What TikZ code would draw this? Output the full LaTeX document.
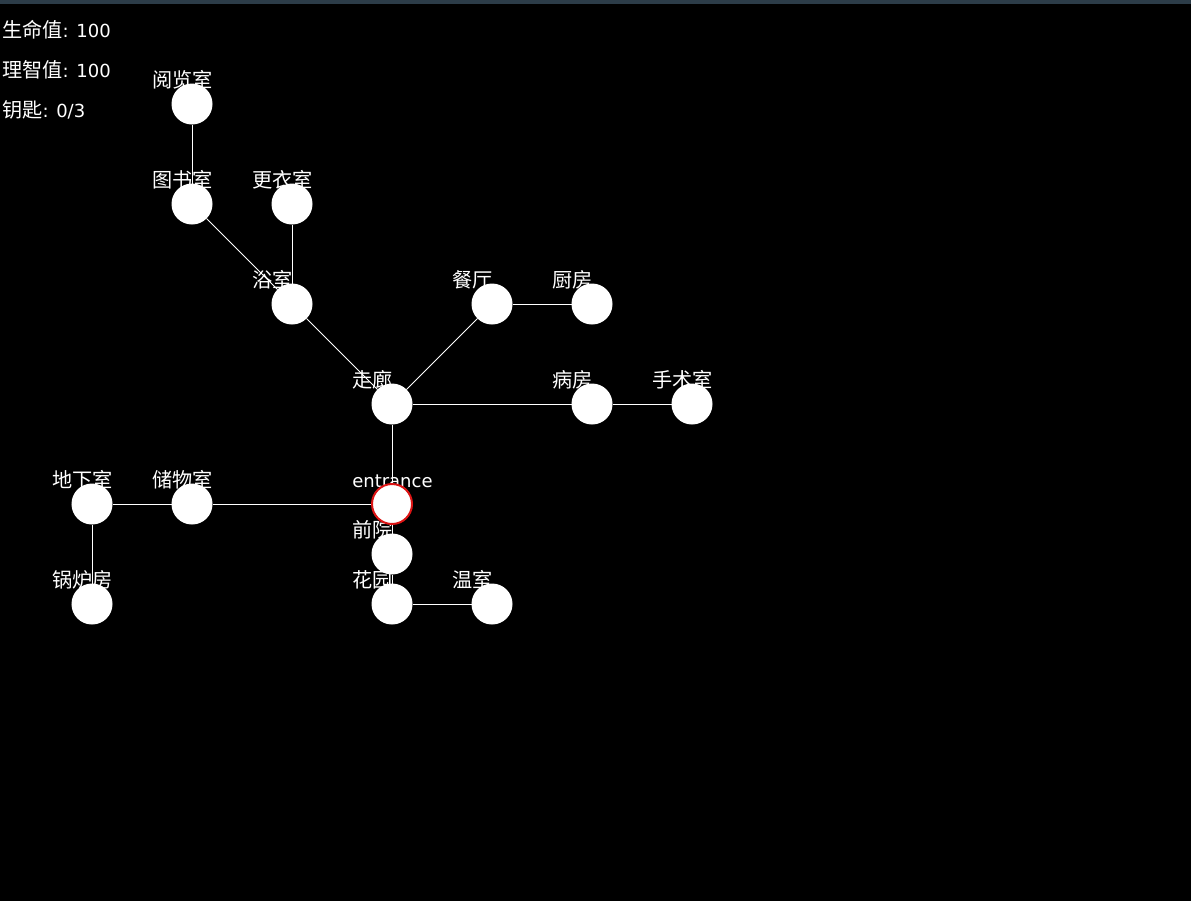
\documentclass[tikz,border=0pt]{standalone}
\usepackage{fontspec}
\setmainfont{DejaVu Sans}
\newfontfamily\cjk[Scale=1.12]{Noto Sans CJK SC}
\usetikzlibrary{positioning}

\definecolor{topbar}{RGB}{44,60,72}
\definecolor{startred}{RGB}{220,20,20}

\pgfdeclarelayer{edges}
\pgfdeclarelayer{texts}
\pgfsetlayers{edges,texts,main}

\tikzset{
  room/.style={circle, fill=white, draw=white, line width=0.75pt, minimum size=30pt, inner sep=0pt},
  startroom/.style={room, draw=startred, line width=1.5pt},
  roomlabel/.style={text=white, anchor=base west, inner sep=0pt, font=\fontsize{13.5pt}{16pt}\selectfont},
  passage/.style={draw=white, line width=0.75pt}
}

\begin{document}
\begin{tikzpicture}[x=0.75pt,y=0.75pt,yscale=-1,xscale=1]
%set diagram left start at 0, and has height of 901
\useasboundingbox (0,0) rectangle (1191,901);

%Shape: Rooms
\node[room] (yuelan) at (192,104) {};
\node[room] (tushu) at (192,204) {};
\node[room] (gengyi) at (292,204) {};
\node[room] (yushi) at (292,304) {};
\node[room] (canting) at (492,304) {};
\node[room] (chufang) at (592,304) {};
\node[room] (zoulang) at (392,404) {};
\node[room] (bingfang) at (592,404) {};
\node[room] (shoushu) at (692,404) {};
\node[room] (dixia) at (92,504) {};
\node[room] (chuwu) at (192,504) {};
\node[startroom] (entrance) at (392,504) {};
\node[room] (qianyuan) at (392,554) {};
\node[room] (guolu) at (92,604) {};
\node[room] (huayuan) at (392,604) {};
\node[room] (wenshi) at (492,604) {};

\begin{pgfonlayer}{edges}
%Shape: Background
\fill[black] (0,0) rectangle (1191,901);
\fill[topbar] (0,0) rectangle (1191,4);
% Connection
\draw[passage] (yuelan) -- (tushu);
\draw[passage] (tushu) -- (yushi);
\draw[passage] (gengyi) -- (yushi);
\draw[passage] (yushi) -- (zoulang);
\draw[passage] (zoulang) -- (canting);
\draw[passage] (canting) -- (chufang);
\draw[passage] (zoulang) -- (bingfang);
\draw[passage] (bingfang) -- (shoushu);
\draw[passage] (zoulang) -- (entrance);
\draw[passage] (entrance) -- (chuwu);
\draw[passage] (chuwu) -- (dixia);
\draw[passage] (dixia) -- (guolu);
\draw[passage] (entrance) -- (qianyuan);
\draw[passage] (qianyuan) -- (huayuan);
\draw[passage] (huayuan) -- (wenshi);
\end{pgfonlayer}

\begin{pgfonlayer}{texts}
% Text Node
\node[roomlabel] (hp) at (2,37) {{\cjk 生命值}: 100};
\node[roomlabel] (san) at (2,77) {{\cjk 理智值}: 100};
\node[roomlabel] (keys) at (2,117) {{\cjk 钥匙}: 0/3};
% Text Node
\node[roomlabel] (t-yuelan) at (152,87) {\cjk 阅览室};
\node[roomlabel] (t-tushu) at (152,187) {\cjk 图书室};
\node[roomlabel] (t-gengyi) at (252,187) {\cjk 更衣室};
\node[roomlabel] (t-yushi) at (252,287) {\cjk 浴室};
\node[roomlabel] (t-canting) at (452,287) {\cjk 餐厅};
\node[roomlabel] (t-chufang) at (552,287) {\cjk 厨房};
\node[roomlabel] (t-zoulang) at (352,387) {\cjk 走廊};
\node[roomlabel] (t-bingfang) at (552,387) {\cjk 病房};
\node[roomlabel] (t-shoushu) at (652,387) {\cjk 手术室};
\node[roomlabel] (t-dixia) at (52,487) {\cjk 地下室};
\node[roomlabel] (t-chuwu) at (152,487) {\cjk 储物室};
\node[roomlabel] (t-entrance) at (352,487) {entrance};
\node[roomlabel] (t-qianyuan) at (352,537) {\cjk 前院};
\node[roomlabel] (t-guolu) at (52,587) {\cjk 锅炉房};
\node[roomlabel] (t-huayuan) at (352,587) {\cjk 花园};
\node[roomlabel] (t-wenshi) at (452,587) {\cjk 温室};
\end{pgfonlayer}

\end{tikzpicture}
\end{document}
